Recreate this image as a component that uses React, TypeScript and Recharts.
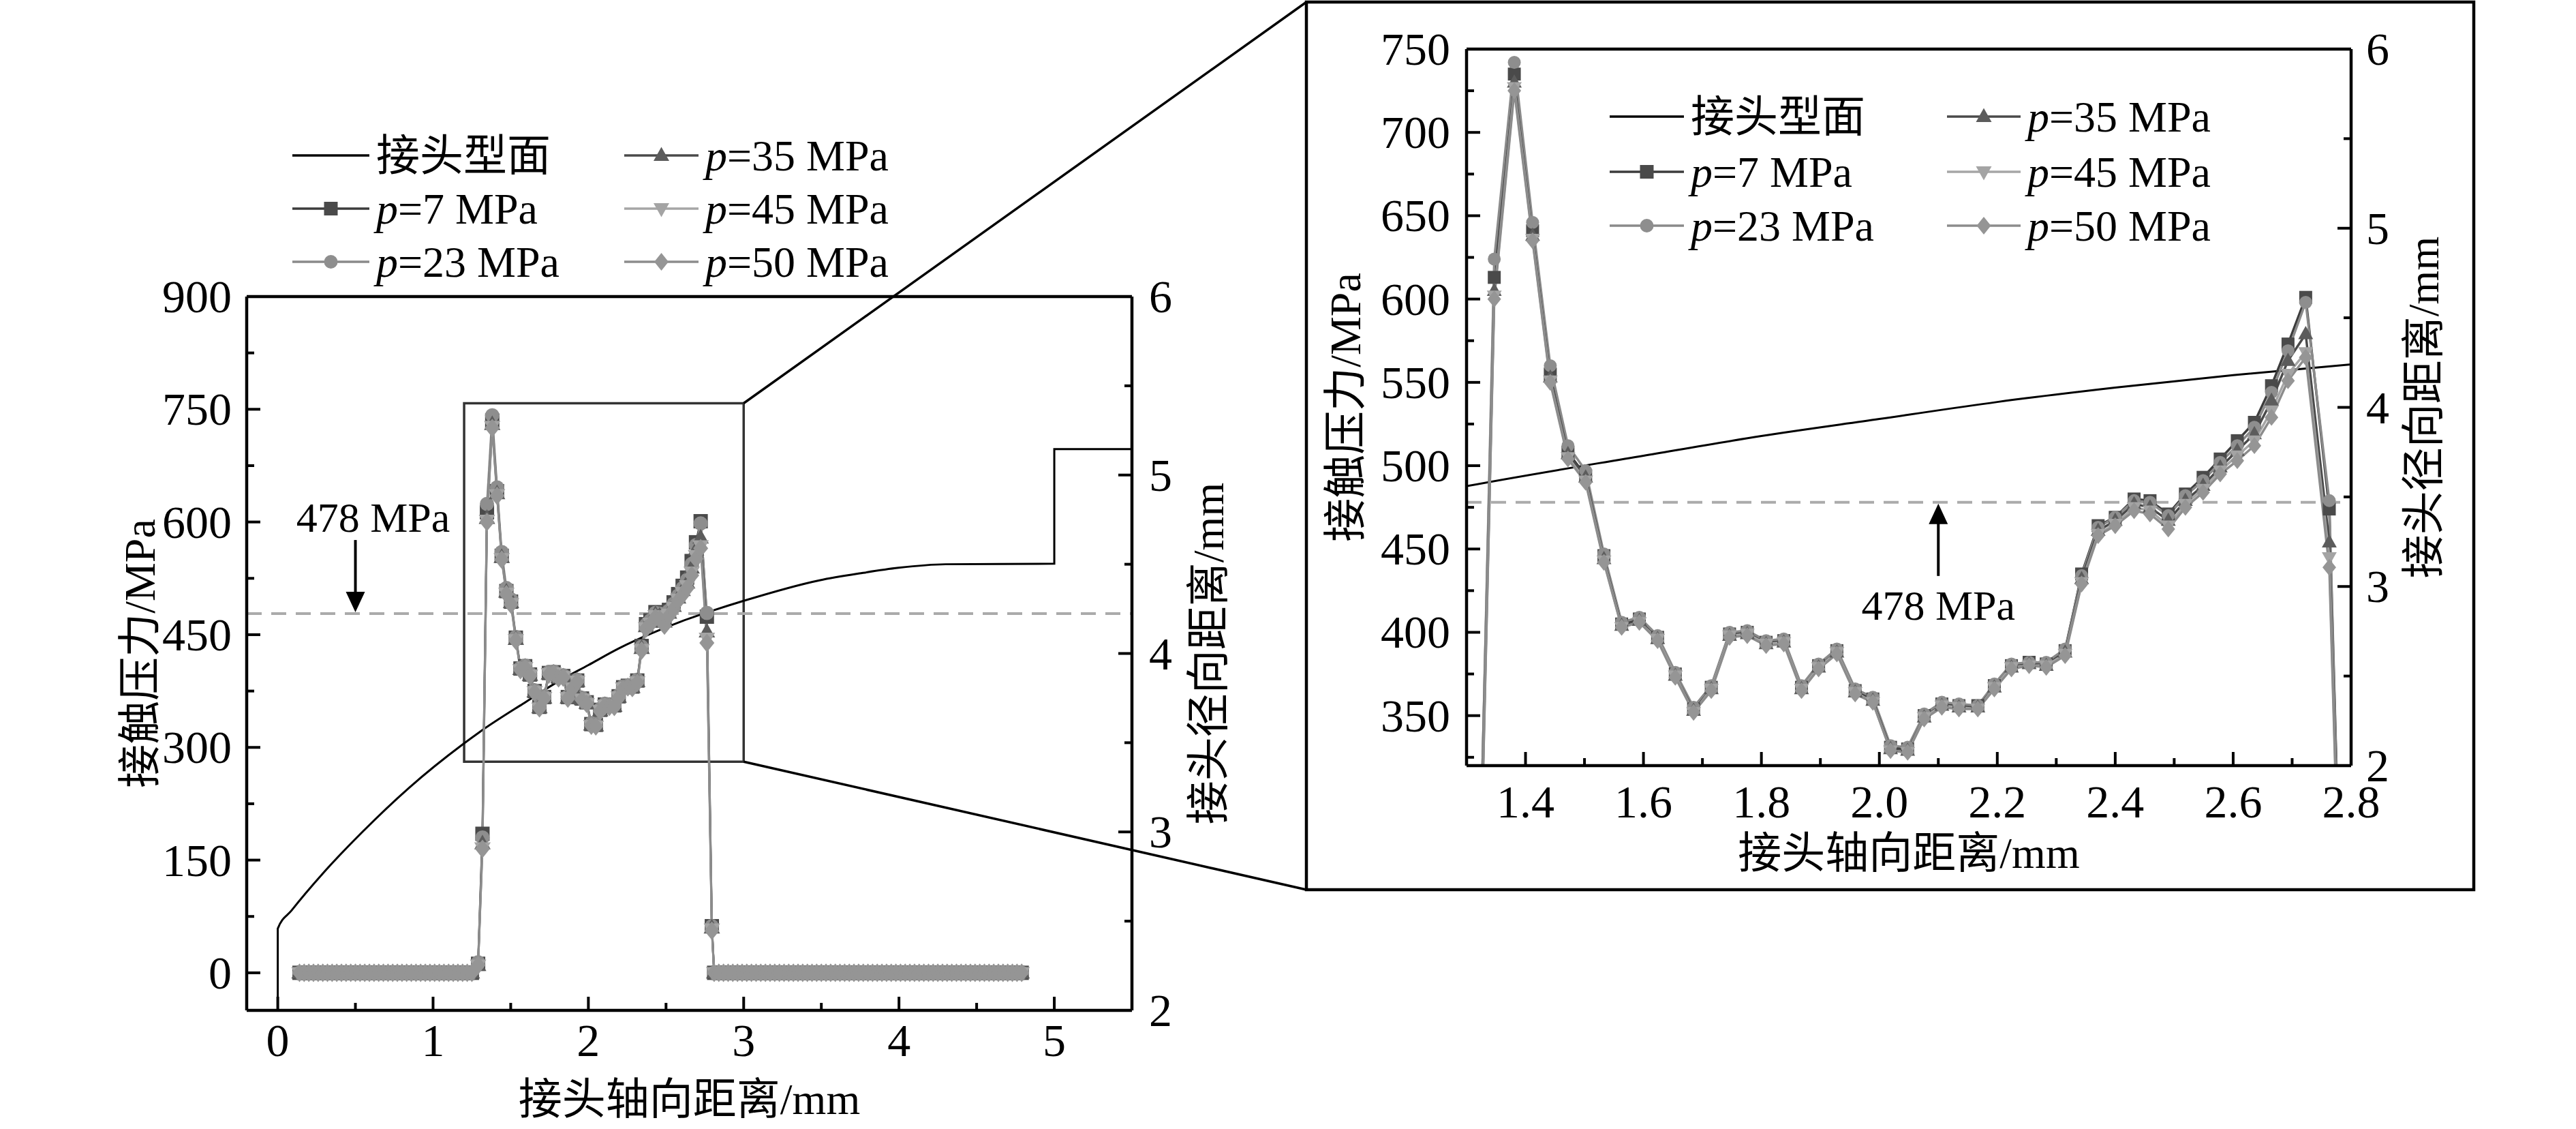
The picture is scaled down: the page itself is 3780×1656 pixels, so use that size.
import React from 'react';
import {
  LineChart,
  Line,
  XAxis,
  YAxis,
  ReferenceLine,
  ReferenceArea,
  ReferenceDot,
  Label,
} from 'recharts';

const SERIF = '"Liberation Serif", "Times New Roman", "Noto Sans CJK SC", serif';

// axial positions (mm) where the contact pressure is non-zero
const contactX = [
  1.29, 1.318, 1.347, 1.381, 1.412, 1.442, 1.472, 1.502, 1.533, 1.563, 1.593, 1.624, 1.654,
  1.685, 1.715, 1.746, 1.776, 1.808, 1.838, 1.868, 1.897, 1.928, 1.959, 1.989, 2.019, 2.048,
  2.076, 2.106, 2.135, 2.167, 2.195, 2.224, 2.254, 2.283, 2.315, 2.343, 2.371, 2.4, 2.432,
  2.459, 2.49, 2.519, 2.549, 2.578, 2.607, 2.636, 2.665, 2.693, 2.723, 2.763, 2.795,
];

// contact pressure (MPa) for each inner pressure
const p7 = [
  12, 185, 613, 735, 641, 555, 508, 494, 446, 405, 408, 397, 375, 354, 367, 399, 400, 394, 395,
  367, 380, 389, 365, 360, 331, 330, 350, 357, 356, 356, 368, 380, 382, 381, 389, 435, 464, 469,
  480, 479, 471, 483, 493, 504, 515, 526, 548, 573, 601, 474, 62,
];
const p23 = [
  14, 180, 624, 742, 646, 560, 512, 497, 447, 406, 409, 398, 376, 355, 368, 400, 401, 395, 396,
  368, 381, 390, 366, 361, 332, 331, 351, 358, 357, 356, 369, 381, 382, 382, 390, 434, 463, 469,
  479, 478, 470, 482, 491, 502, 512, 523, 544, 569, 598, 479, 62,
];
const p35 = [
  10, 172, 605, 730, 638, 553, 507, 493, 444, 404, 407, 396, 374, 353, 366, 398, 399, 393, 394,
  366, 379, 388, 364, 359, 330, 329, 349, 356, 355, 355, 367, 379, 381, 380, 388, 432, 461, 467,
  477, 475, 467, 479, 488, 499, 509, 519, 539, 563, 579, 454, 60,
];
const p45 = [
  10, 166, 602, 727, 636, 551, 505, 491, 443, 403, 406, 396, 374, 352, 366, 398, 399, 393, 394,
  366, 379, 388, 364, 358, 329, 328, 349, 356, 355, 354, 367, 379, 380, 380, 387, 430, 459, 465,
  475, 473, 464, 477, 486, 497, 506, 515, 533, 555, 568, 445, 58,
];
const p50 = [
  10, 165, 600, 725, 635, 550, 504, 490, 442, 403, 406, 395, 373, 352, 365, 397, 398, 392, 393,
  365, 378, 387, 363, 358, 329, 328, 348, 355, 354, 354, 366, 378, 380, 379, 386, 429, 458, 464,
  473, 471, 462, 475, 484, 495, 503, 512, 529, 551, 565, 439, 56,
];

// axial positions (mm) where all series sit at 0 MPa
const zeroLeftX = [
  0.14, 0.17, 0.2, 0.23, 0.26, 0.29, 0.32, 0.35, 0.38, 0.41, 0.44, 0.47, 0.5, 0.53, 0.56, 0.59,
  0.62, 0.65, 0.68, 0.71, 0.74, 0.77, 0.8, 0.83, 0.86, 0.89, 0.92, 0.95, 0.98, 1.01, 1.04, 1.07,
  1.1, 1.13, 1.16, 1.19, 1.22, 1.25,
];
const zeroRightX = [
  2.81, 2.84, 2.87, 2.9, 2.93, 2.96, 2.99, 3.02, 3.05, 3.08, 3.11, 3.14, 3.17, 3.2, 3.23, 3.26,
  3.29, 3.32, 3.35, 3.38, 3.41, 3.44, 3.47, 3.5, 3.53, 3.56, 3.59, 3.62, 3.65, 3.68, 3.71, 3.74,
  3.77, 3.8, 3.83, 3.86, 3.89, 3.92, 3.95, 3.98, 4.01, 4.04, 4.07, 4.1, 4.13, 4.16, 4.19, 4.22,
  4.25, 4.28, 4.31, 4.34, 4.37, 4.4, 4.43, 4.46, 4.49, 4.52, 4.55, 4.58, 4.61, 4.64, 4.67, 4.7,
  4.73, 4.76, 4.79,
];

// joint profile: axial distance (mm) vs radial distance (mm)
const profileX = [0, 0, 0.089, 0.292, 0.545, 0.849, 1.19, 1.3, 1.6, 1.8, 2.0, 2.2, 2.4, 2.6, 2.8, 3.0, 3.488, 3.756, 3.997, 4.3, 5.0, 5.0, 5.5];
const profileR = [2.0, 2.458, 2.56, 2.769, 3.0, 3.25, 3.49, 3.56, 3.73, 3.84, 3.935, 4.03, 4.11, 4.18, 4.24, 4.295, 4.41, 4.45, 4.48, 4.5, 4.503, 5.145, 5.145];

const yieldLimit = 478;

// tick values
const mainXTicks = [0, 0.5, 1, 1.5, 2, 2.5, 3, 3.5, 4, 4.5, 5];
const mainXMajor = [0, 1, 2, 3, 4, 5];
const mainYTicks = [0, 75, 150, 225, 300, 375, 450, 525, 600, 675, 750, 825, 900];
const mainYMajor = [0, 150, 300, 450, 600, 750, 900];
const radTicks = [2, 2.5, 3, 3.5, 4, 4.5, 5, 5.5, 6];
const radMajor = [2, 3, 4, 5, 6];
const insetXTicks = [1.3, 1.4, 1.5, 1.6, 1.7, 1.8, 1.9, 2.0, 2.1, 2.2, 2.3, 2.4, 2.5, 2.6, 2.7, 2.8];
const insetXMajor = [1.4, 1.6, 1.8, 2.0, 2.2, 2.4, 2.6, 2.8];
const insetYTicks = [325, 350, 375, 400, 425, 450, 475, 500, 525, 550, 575, 600, 625, 650, 675, 700, 725, 750];
const insetYMajor = [350, 400, 450, 500, 550, 600, 650, 700, 750];

const pressureRows = [
  ...zeroLeftX.map((x) => ({ x, p7: 0, p23: 0, p35: 0, p45: 0, p50: 0 })),
  ...contactX.map((x, i) => ({ x, p7: p7[i], p23: p23[i], p35: p35[i], p45: p45[i], p50: p50[i] })),
  ...zeroRightX.map((x) => ({ x, p7: 0, p23: 0, p35: 0, p45: 0, p50: 0 })),
];
const profileRows = profileX.map((x, i) => ({ x, r: profileR[i] }));

const series = [
  { key: 'p7', label: '7', shape: 'square', line: '#3c3c3c', fill: '#4a4a4a' },
  { key: 'p23', label: '23', shape: 'circle', line: '#8a8a8a', fill: '#8e8e8e' },
  { key: 'p35', label: '35', shape: 'up', line: '#4a4a4a', fill: '#5c5c5c' },
  { key: 'p45', label: '45', shape: 'down', line: '#a6a6a6', fill: '#a4a4a4' },
  { key: 'p50', label: '50', shape: 'diamond', line: '#8c8c8c', fill: '#959595' },
];

function Marker({ shape, cx, cy, r, fill }: any) {
  if (cx == null || cy == null || isNaN(cx) || isNaN(cy)) return null;
  if (shape === 'square') return <rect x={cx - r} y={cy - r} width={2 * r} height={2 * r} fill={fill} />;
  if (shape === 'circle') return <circle cx={cx} cy={cy} r={r} fill={fill} />;
  if (shape === 'up')
    return <polygon points={`${cx},${cy - r * 1.25} ${cx + r * 1.15},${cy + r * 0.8} ${cx - r * 1.15},${cy + r * 0.8}`} fill={fill} />;
  if (shape === 'down')
    return <polygon points={`${cx},${cy + r * 1.25} ${cx + r * 1.15},${cy - r * 0.8} ${cx - r * 1.15},${cy - r * 0.8}`} fill={fill} />;
  return <polygon points={`${cx},${cy - r * 1.3} ${cx + r * 1.05},${cy} ${cx},${cy + r * 1.3} ${cx - r * 1.05},${cy}`} fill={fill} />;
}

const dotFn = (shape: string, fill: string, r: number) => (p: any) =>
  <Marker key={`${shape}-${p.index}`} shape={shape} cx={p.cx} cy={p.cy} r={r} fill={fill} />;

const isMajor = (list: number[], v: number) => list.some((m) => Math.abs(m - v) < 1e-6);

// inward ticks, major longer than minor, label only on majors
const makeTick =
  (side: 'bottom' | 'left' | 'right', majors: number[], gap: number, fmt?: (v: number) => string) =>
  (props: any) => {
    const { x, y, payload } = props;
    const v = payload.value;
    const major = isMajor(majors, v);
    const len = major ? 20 : 11;
    const txt = major ? (fmt ? fmt(v) : String(v)) : '';
    if (side === 'bottom') {
      return (
        <g>
          <line x1={x} x2={x} y1={y} y2={y - len} stroke="#000" strokeWidth={4} />
          {txt && (
            <text x={x} y={y + gap} textAnchor="middle" fontSize={68} fontFamily={SERIF} fill="#000">
              {txt}
            </text>
          )}
        </g>
      );
    }
    const dir = side === 'left' ? 1 : -1;
    return (
      <g>
        <line x1={x} x2={x + dir * len} y1={y} y2={y} stroke="#000" strokeWidth={4} />
        {txt && (
          <text
            x={x - dir * gap}
            y={y + 23}
            textAnchor={side === 'left' ? 'end' : 'start'}
            fontSize={68}
            fontFamily={SERIF}
            fill="#000"
          >
            {txt}
          </text>
        )}
      </g>
    );
  };

const AX = { stroke: '#000', strokeWidth: 4.5 };

const vTitle = (text: string, dx: number) => (p: any) => {
  const vb = p.viewBox;
  const axisX = dx < 0 ? vb.x + vb.width : vb.x;
  const cx = axisX + dx;
  const cy = vb.y + vb.height / 2;
  return (
    <text
      x={cx}
      y={cy}
      transform={`rotate(-90, ${cx}, ${cy})`}
      textAnchor="middle"
      dominantBaseline="central"
      fontSize={64}
      fontFamily={SERIF}
      fill="#000"
    >
      {text}
    </text>
  );
};

const hTitle = (text: string, dy: number) => (p: any) => {
  const vb = p.viewBox;
  return (
    <text
      x={vb.x + vb.width / 2}
      y={vb.y + dy}
      textAnchor="middle"
      dominantBaseline="central"
      fontSize={64}
      fontFamily={SERIF}
      fill="#000"
    >
      {text}
    </text>
  );
};

const DownArrow = (p: any) => (
  <g>
    <line x1={p.cx} x2={p.cx} y1={p.cy - 108} y2={p.cy - 26} stroke="#000" strokeWidth={4} />
    <polygon points={`${p.cx - 14},${p.cy - 32} ${p.cx + 14},${p.cy - 32} ${p.cx},${p.cy - 2}`} fill="#000" />
    <text x={p.cx + 26} y={p.cy - 120} textAnchor="middle" fontSize={62} fontFamily={SERIF} fill="#000">
      478 MPa
    </text>
  </g>
);

const UpArrow = (p: any) => (
  <g>
    <line x1={p.cx} x2={p.cx} y1={p.cy + 26} y2={p.cy + 108} stroke="#000" strokeWidth={4} />
    <polygon points={`${p.cx - 14},${p.cy + 32} ${p.cx + 14},${p.cy + 32} ${p.cx},${p.cy + 2}`} fill="#000" />
    <text x={p.cx} y={p.cy + 172} textAnchor="middle" fontSize={62} fontFamily={SERIF} fill="#000">
      478 MPa
    </text>
  </g>
);

// main plot box in page pixels
const MAIN = { left: 362, right: 1661, top: 435, bottom: 1482, x0: -0.2, x1: 5.5, y0: -50, y1: 900 };
const mainPx = (x: number) => MAIN.left + ((x - MAIN.x0) / (MAIN.x1 - MAIN.x0)) * (MAIN.right - MAIN.left);
const mainPy = (v: number) => MAIN.top + ((MAIN.y1 - v) / (MAIN.y1 - MAIN.y0)) * (MAIN.bottom - MAIN.top);
const zoomBox = { x1: 1.2, x2: 3.0, y1: 281, y2: 758 };
const FRAME = { left: 1917, top: 3, right: 3630, bottom: 1305 };

function MainChart() {
  return (
    <LineChart width={1900} height={1656} margin={{ top: 435, left: 262, right: 139, bottom: 74 }}>
      <XAxis
        type="number"
        dataKey="x"
        domain={[MAIN.x0, MAIN.x1]}
        ticks={mainXTicks}
        interval={0}
        allowDataOverflow
        height={100}
        tickSize={0}
        tickMargin={0}
        tickLine={false}
        axisLine={AX}
        tick={makeTick('bottom', mainXMajor, 67)}
      >
        <Label content={hTitle('接头轴向距离/mm', 130)} />
      </XAxis>
      <YAxis
        yAxisId="left"
        type="number"
        domain={[MAIN.y0, MAIN.y1]}
        ticks={mainYTicks}
        interval={0}
        allowDataOverflow
        width={100}
        tickSize={0}
        tickMargin={0}
        tickLine={false}
        axisLine={AX}
        tick={makeTick('left', mainYMajor, 22)}
      >
        <Label content={vTitle('接触压力/MPa', -157)} />
      </YAxis>
      <YAxis
        yAxisId="right"
        orientation="right"
        type="number"
        domain={[2, 6]}
        ticks={radTicks}
        interval={0}
        allowDataOverflow
        width={100}
        tickSize={0}
        tickMargin={0}
        tickLine={false}
        axisLine={AX}
        tick={makeTick('right', radMajor, 25)}
      >
        <Label content={vTitle('接头径向距离/mm', 112)} />
      </YAxis>
      <ReferenceLine yAxisId="left" y={900} stroke="#000" strokeWidth={4.5} />
      <ReferenceLine yAxisId="left" y={yieldLimit} stroke="#ababab" strokeWidth={4} strokeDasharray="22 14" />
      <ReferenceArea
        yAxisId="left"
        x1={zoomBox.x1}
        x2={zoomBox.x2}
        y1={zoomBox.y1}
        y2={zoomBox.y2}
        fill="none"
        fillOpacity={0}
        stroke="#333"
        strokeWidth={3.5}
        ifOverflow="visible"
      />
      <Line
        yAxisId="right"
        data={profileRows}
        dataKey="r"
        type="monotone"
        stroke="#000"
        strokeWidth={3}
        dot={false}
        activeDot={false}
        isAnimationActive={false}
      />
      {series.map((s) => (
        <Line
          key={s.key}
          yAxisId="left"
          data={pressureRows}
          dataKey={s.key}
          type="linear"
          stroke={s.line}
          strokeWidth={3}
          dot={dotFn(s.shape, s.fill, 10.5)}
          activeDot={false}
          isAnimationActive={false}
        />
      ))}
      <ReferenceDot yAxisId="left" x={0.5} y={yieldLimit} r={0} ifOverflow="visible" shape={DownArrow} />
    </LineChart>
  );
}

function InsetChart() {
  return (
    <LineChart width={1713} height={1302} margin={{ top: 69, left: 135, right: 80, bottom: 82 }}>
      <XAxis
        type="number"
        dataKey="x"
        domain={[1.3, 2.8]}
        ticks={insetXTicks}
        interval={0}
        allowDataOverflow
        height={100}
        tickSize={0}
        tickMargin={0}
        tickLine={false}
        axisLine={AX}
        tick={makeTick('bottom', insetXMajor, 76, (v) => v.toFixed(1))}
      >
        <Label content={hTitle('接头轴向距离/mm', 128)} />
      </XAxis>
      <YAxis
        yAxisId="left"
        type="number"
        domain={[320, 750]}
        ticks={insetYTicks}
        interval={0}
        allowDataOverflow
        width={100}
        tickSize={0}
        tickMargin={0}
        tickLine={false}
        axisLine={AX}
        tick={makeTick('left', insetYMajor, 24)}
      >
        <Label content={vTitle('接触压力/MPa', -178)} />
      </YAxis>
      <YAxis
        yAxisId="right"
        orientation="right"
        type="number"
        domain={[2, 6]}
        ticks={radTicks}
        interval={0}
        allowDataOverflow
        width={100}
        tickSize={0}
        tickMargin={0}
        tickLine={false}
        axisLine={AX}
        tick={makeTick('right', radMajor, 22)}
      >
        <Label content={vTitle('接头径向距离/mm', 106)} />
      </YAxis>
      <ReferenceLine yAxisId="left" y={750} stroke="#000" strokeWidth={4.5} />
      <ReferenceLine yAxisId="left" y={yieldLimit} stroke="#ababab" strokeWidth={4} strokeDasharray="22 14" />
      <Line
        yAxisId="right"
        data={profileRows}
        dataKey="r"
        type="monotone"
        stroke="#000"
        strokeWidth={3}
        dot={false}
        activeDot={false}
        isAnimationActive={false}
      />
      {series.map((s) => (
        <Line
          key={s.key}
          yAxisId="left"
          data={pressureRows}
          dataKey={s.key}
          type="linear"
          stroke={s.line}
          strokeWidth={3.5}
          dot={dotFn(s.shape, s.fill, 9.5)}
          activeDot={false}
          isAnimationActive={false}
        />
      ))}
      <ReferenceDot yAxisId="left" x={2.1} y={yieldLimit} r={0} ifOverflow="visible" shape={UpArrow} />
    </LineChart>
  );
}

function LegendItem({ x0, x1, y, shape, line, fill, label }: any) {
  const tx = x1 + 10;
  return (
    <g>
      <line x1={x0} x2={x1} y1={y} y2={y} stroke={line} strokeWidth={3.5} />
      {shape && <Marker shape={shape} cx={(x0 + x1) / 2} cy={y} r={10} fill={fill} />}
      <text x={tx} y={y + 22} fontSize={64} fontFamily={SERIF} fill="#000">
        {label === null ? (
          '接头型面'
        ) : (
          <>
            <tspan fontStyle="italic">p</tspan>={label} MPa
          </>
        )}
      </text>
    </g>
  );
}

function Legend({ rows, c1, c2 }: { rows: number[]; c1: [number, number]; c2: [number, number] }) {
  return (
    <g>
      <LegendItem x0={c1[0]} x1={c1[1]} y={rows[0]} line="#000" label={null} />
      {series.map((s, i) => {
        const col = i < 2 ? c1 : c2;
        const row = i < 2 ? rows[i + 1] : rows[i - 2];
        return (
          <LegendItem key={s.key} x0={col[0]} x1={col[1]} y={row} shape={s.shape} line={s.line} fill={s.fill} label={s.label} />
        );
      })}
    </g>
  );
}

export default function App() {
  const cTopX = mainPx(zoomBox.x2);
  const cTopY = mainPy(zoomBox.y2);
  const cBotY = mainPy(zoomBox.y1);
  return (
    <div style={{ position: 'absolute', left: 0, top: 0, width: 3780, height: 1656, background: '#fff', overflow: 'hidden' }}>
      <div style={{ position: 'absolute', left: 0, top: 0 }}>
        <MainChart />
      </div>
      <div style={{ position: 'absolute', left: FRAME.left, top: FRAME.top }}>
        <InsetChart />
      </div>
      <svg width={3780} height={1656} style={{ position: 'absolute', left: 0, top: 0, pointerEvents: 'none' }}>
        <line x1={cTopX} y1={cTopY} x2={FRAME.left} y2={FRAME.top} stroke="#000" strokeWidth={3.5} />
        <line x1={cTopX} y1={cBotY} x2={FRAME.left} y2={FRAME.bottom} stroke="#000" strokeWidth={3.5} />
        <rect
          x={FRAME.left}
          y={FRAME.top}
          width={FRAME.right - FRAME.left}
          height={FRAME.bottom - FRAME.top}
          fill="none"
          stroke="#000"
          strokeWidth={4.5}
        />
        <Legend rows={[228, 306, 384]} c1={[429, 542]} c2={[916, 1025]} />
        <Legend rows={[171, 252, 331]} c1={[2362, 2471]} c2={[2857, 2965]} />
      </svg>
    </div>
  );
}
